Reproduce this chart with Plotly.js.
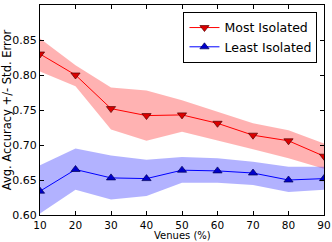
<!DOCTYPE html>
<html><head><meta charset="utf-8">
<script src="https://cdn.plot.ly/plotly-3.0.1.min.js"></script>
<style>html,body{margin:0;padding:0;background:#fff}#c{width:332px;height:242px}</style>
</head><body><div id="c"></div>
<script>
var venues = [10, 20, 30, 40, 50, 60, 70, 80, 90];
var mostMean  = [0.830, 0.800, 0.752, 0.742, 0.743, 0.731, 0.714, 0.706, 0.684];
var mostUpper = [0.852, 0.814, 0.782, 0.778, 0.764, 0.748, 0.731, 0.721, 0.702];
var mostLower = [0.805, 0.784, 0.722, 0.706, 0.719, 0.707, 0.694, 0.681, 0.666];
var leastMean  = [0.634, 0.665, 0.653, 0.652, 0.664, 0.663, 0.660, 0.650, 0.652];
var leastUpper = [0.671, 0.695, 0.685, 0.679, 0.683, 0.681, 0.676, 0.669, 0.669];
var leastLower = [0.602, 0.636, 0.622, 0.627, 0.646, 0.646, 0.643, 0.633, 0.636];
var yTicks = [0.60, 0.65, 0.70, 0.75, 0.80, 0.85, 0.90];
var xTicks = [10, 20, 30, 40, 50, 60, 70, 80, 90];

var font = 'DejaVu Sans, sans-serif';
var traces = [
  {x: venues, y: mostUpper, mode: 'lines', line: {width: 0, color: 'rgba(0,0,0,0)'}, showlegend: false, hoverinfo: 'skip'},
  {x: venues, y: mostLower, mode: 'lines', fill: 'tonexty', fillcolor: 'rgba(255,0,0,0.3)', line: {width: 0, color: 'rgba(0,0,0,0)'}, showlegend: false, hoverinfo: 'skip'},
  {x: venues, y: leastUpper, mode: 'lines', line: {width: 0, color: 'rgba(0,0,0,0)'}, showlegend: false, hoverinfo: 'skip'},
  {x: venues, y: leastLower, mode: 'lines', fill: 'tonexty', fillcolor: 'rgba(0,0,255,0.3)', line: {width: 0, color: 'rgba(0,0,0,0)'}, showlegend: false, hoverinfo: 'skip'},
  {x: venues, y: mostMean, mode: 'lines+markers', name: 'Most Isolated',
   line: {color: '#ff0000', width: 1}, marker: {symbol: 'triangle-down', size: 8, color: '#dd0000', line: {color: '#550000', width: 0.7}}},
  {x: venues, y: leastMean, mode: 'lines+markers', name: 'Least Isolated',
   line: {color: '#0000ff', width: 1}, marker: {symbol: 'triangle-up', size: 8, color: '#0000cc', line: {color: '#000055', width: 0.7}}}
];
var layout = {
  width: 332, height: 242,
  margin: {l: 40, r: 8, t: 5, b: 27},
  paper_bgcolor: '#fff', plot_bgcolor: '#fff',
  font: {family: font, size: 11, color: '#000'},
  showlegend: true,
  legend: {x: 0.977, y: 0.967, xanchor: 'right', yanchor: 'top', bgcolor: '#fff', bordercolor: '#000', borderwidth: 1,
           font: {family: font, size: 12.5}, traceorder: 'normal', tracegroupgap: 0, itemwidth: 30},
  xaxis: {range: [10, 90], tickvals: xTicks, ticktext: xTicks.map(String), ticks: 'inside', ticklen: 4, tickcolor: '#000',
          showline: true, linecolor: '#000', linewidth: 1, mirror: 'allticks', showgrid: false, zeroline: false,
          tickfont: {size: 10.5}},
  yaxis: {range: [0.60, 0.90], tickvals: yTicks, ticktext: yTicks.map(function(v){return v.toFixed(2);}), ticks: 'inside', ticklen: 4, tickcolor: '#000',
          showline: true, linecolor: '#000', linewidth: 1, mirror: 'allticks', showgrid: false, zeroline: false,
          title: {text: 'Avg. Accuracy +/- Std. Error', font: {family: font, size: 11.5}, standoff: 1}, tickfont: {size: 11}},
  annotations: [{text: 'Venues (%)', xref: 'paper', yref: 'paper', x: 0.5, y: -0.1286, xanchor: 'center', yanchor: 'bottom',
                 showarrow: false, borderpad: 0, font: {family: font, size: 10}}]
};
Plotly.newPlot('c', traces, layout, {displayModeBar: false, staticPlot: true});
</script></body></html>
